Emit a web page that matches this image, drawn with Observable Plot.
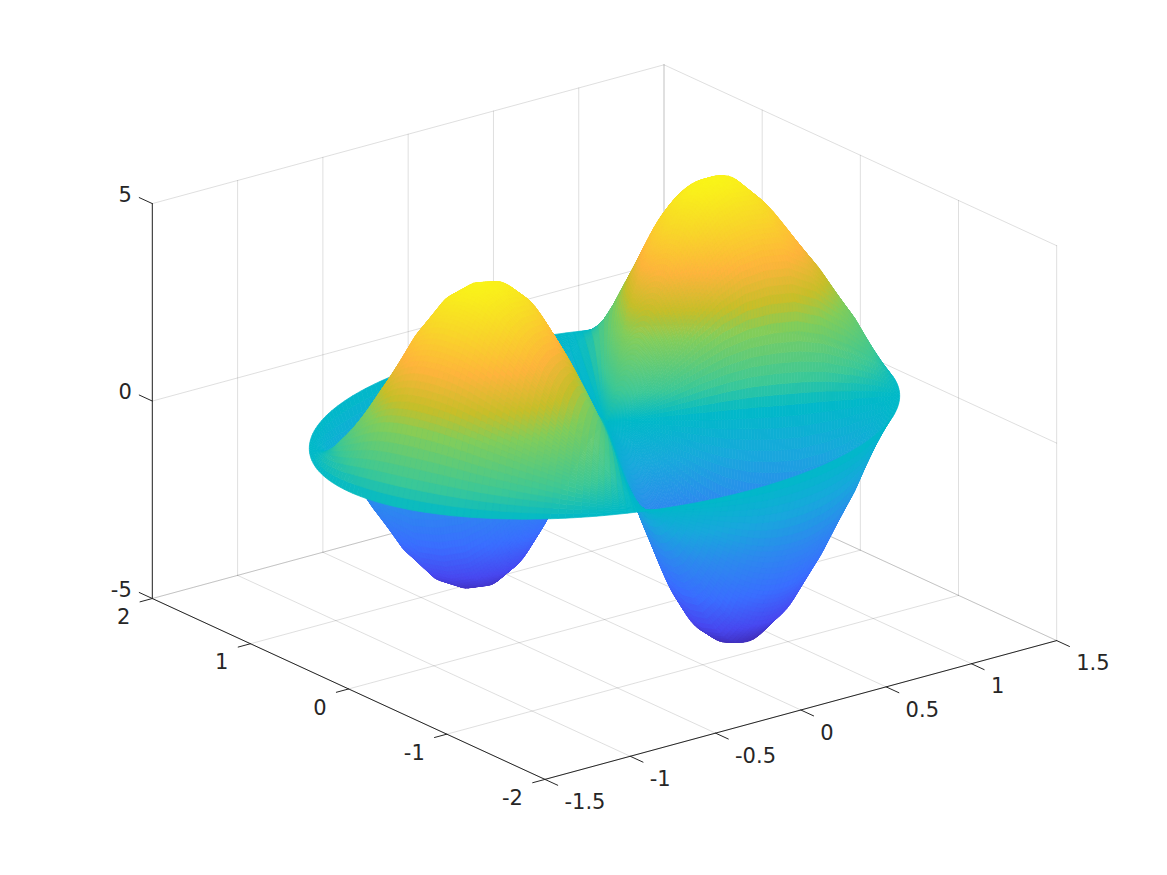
<!DOCTYPE html>
<html><head><meta charset="utf-8">
<style>html,body{margin:0;padding:0;background:#fff}svg{display:block}</style>
<script src="https://cdn.jsdelivr.net/npm/d3@7"></script>
<script src="https://cdn.jsdelivr.net/npm/@observablehq/plot@0.6"></script>
</head><body><div id="c"></div><script>
const xTicks=[-1.5,-1,-0.5,0,0.5,1,1.5];
const yTicks=[-2,-1,0,1,2];
const zTicks=[-5,0,5];
const radii=[0,.125,.25,.375,.5,.625,.75,.875,1,1.125,1.25,1.375,1.5];
const angles=[21,36,51,66,81,96,111,126,141,156,171,186,201,216,231,246,261,276,291,306,321,336,351,366];
// one row per angle, one column per radius
const zValues=[
[0,.61,1.48,2.43,3.40,4.20,4.68,4.82,4.72,4.18,3.20,1.90,0],
[0,.54,1.30,2.14,2.99,3.70,4.12,4.24,4.15,3.68,2.82,1.67,0],
[0,.31,.74,1.22,1.70,2.10,2.34,2.41,2.36,2.09,1.60,.95,0],
[0,0,0,0,0,0,0,0,0,0,0,0,0],
[0,-.31,-.74,-1.22,-1.70,-2.10,-2.34,-2.41,-2.36,-2.09,-1.60,-.95,0],
[0,-.54,-1.30,-2.14,-2.99,-3.70,-4.12,-4.24,-4.15,-3.68,-2.82,-1.67,0],
[0,-.60,-1.46,-2.39,-3.35,-4.14,-4.61,-4.75,-4.65,-4.12,-3.15,-1.87,0],
[0,-.50,-1.22,-2.00,-2.81,-3.47,-3.86,-3.98,-3.89,-3.45,-2.64,-1.57,0],
[0,-.24,-.59,-.97,-1.36,-1.68,-1.87,-1.93,-1.89,-1.67,-1.28,-.76,0],
[0,.06,.15,.24,.34,.42,.47,.48,.47,.42,.32,.19,0],
[0,.34,.83,1.36,1.90,2.35,2.62,2.70,2.64,2.34,1.79,1.06,0],
[0,.57,1.38,2.26,3.16,3.91,4.35,4.49,4.39,3.89,2.98,1.77,0],
[0,.59,1.44,2.36,3.30,4.07,4.54,4.68,4.58,4.05,3.10,1.84,0],
[0,.46,1.12,1.85,2.58,3.19,3.56,3.66,3.59,3.18,2.43,1.44,0],
[0,.26,.62,1.02,1.43,1.76,1.97,2.02,1.98,1.76,1.34,.80,0],
[0,0,0,0,0,0,0,0,0,0,0,0,0],
[0,-.31,-.74,-1.22,-1.70,-2.10,-2.34,-2.41,-2.36,-2.09,-1.60,-.95,0],
[0,-.56,-1.35,-2.22,-3.11,-3.84,-4.28,-4.41,-4.32,-3.82,-2.93,-1.74,0],
[0,-.62,-1.50,-2.46,-3.44,-4.25,-4.74,-4.88,-4.78,-4.23,-3.24,-1.92,0],
[0,-.50,-1.21,-1.99,-2.79,-3.44,-3.84,-3.95,-3.87,-3.43,-2.62,-1.56,0],
[0,-.18,-.44,-.73,-1.02,-1.26,-1.40,-1.45,-1.42,-1.25,-.96,-.57,0],
[0,.12,.30,.49,.68,.84,.94,.96,.94,.84,.64,.38,0],
[0,.38,.92,1.51,2.11,2.60,2.90,2.99,2.93,2.59,1.98,1.18,0],
[0,.52,1.26,2.07,2.89,3.57,3.98,4.10,4.01,3.55,2.72,1.62,0]];
const colorLevels=[-5,-4.2,-3.2,-2,-1,0,.6,1.7,2.3,3.1,4,5];
const colorStops=["#3e26a8","#4848f0","#3a6eff","#2c8aee","#18a8dc","#00b9c8","#3cc896","#82cd5a","#c8be28","#ffb43c","#f8d828","#f9fb15"];

const az=-37.5*Math.PI/180, el=30*Math.PI/180;
const project=(x,y,z)=>{const a=x/3,b=y/4,c=z/10;return{
  u:Math.cos(az)*a+Math.sin(az)*b,
  v:Math.sin(el)*(-Math.sin(az)*a+Math.cos(az)*b)+Math.cos(el)*c,
  d:Math.cos(el)*Math.sin(az)*a-Math.cos(el)*Math.cos(az)*b+Math.sin(el)*c}};
const seg=(rows,id,p,q)=>{for(const [x,y,z] of [p,q]){const {u,v}=project(x,y,z);rows.push({u,v,id})}};

const grid=[];let g=0;
for(const t of xTicks){seg(grid,g++,[t,-2,-5],[t,2,-5]);seg(grid,g++,[t,2,-5],[t,2,5]);}
for(const t of yTicks){seg(grid,g++,[-1.5,t,-5],[1.5,t,-5]);seg(grid,g++,[1.5,t,-5],[1.5,t,5]);}
for(const t of zTicks){seg(grid,g++,[-1.5,2,t],[1.5,2,t]);seg(grid,g++,[1.5,-2,t],[1.5,2,t]);}
const axes=[];let h=0;
seg(axes,h++,[-1.5,-2,-5],[1.5,-2,-5]);seg(axes,h++,[-1.5,-2,-5],[-1.5,2,-5]);seg(axes,h++,[-1.5,2,-5],[-1.5,2,5]);
for(const t of xTicks)seg(axes,h++,[t,-2,-5],[t,-2.13,-5]);
for(const t of yTicks)seg(axes,h++,[-1.5,t,-5],[-1.572,t,-5]);
for(const t of zTicks)seg(axes,h++,[-1.5,2,t],[-1.5,2.133,t]);
const lab=(ts,f)=>ts.map(t=>({...project(...f(t)),t:String(t)}));

const cr=(a,b,c,d,t)=>.5*(2*b+(c-a)*t+(2*a-5*b+4*c-d)*t*t+(3*b-a-3*c+d)*t*t*t);
const nA=angles.length,nR=radii.length,angleStep=angles[1]-angles[0];
const surf=(s,w)=>{
  const j=Math.floor(s),t=s-j,i=Math.min(Math.floor(w),nR-2),q=w-i;
  const col=k=>{const row=zValues[((k%nA)+nA)%nA];return row[i]+(row[i+1]-row[i])*q};
  return cr(col(j-1),col(j),col(j+1),col(j+2),t)};
const subA=10,subR=8,quads=[];
const vert=(m,n)=>{const s=m/subA,w=n/subR,th=(angles[0]+s*angleStep)*Math.PI/180;
  const i=Math.min(Math.floor(w),nR-2),r=radii[i]+(w-i)*(radii[i+1]-radii[i]);
  const x=r*Math.cos(th),y=r*Math.sin(th),z=surf(s,w);return{...project(x,y,z),z}};
for(let m=0;m<nA*subA;m++)for(let n=0;n<(nR-1)*subR;n++){
  const vs=[vert(m,n),vert(m+1,n),vert(m+1,n+1),vert(m,n+1)];
  quads.push({vs,d:d3.mean(vs,e=>e.d),c:d3.mean(vs,e=>e.z)});
}
quads.sort((a,b)=>a.d-b.d);
const surfaceRows=[];
quads.forEach((q,id)=>{for(const p of [...q.vs,q.vs[0]])surfaceRows.push({u:p.u,v:p.v,id,c:q.c})});

const font={fontFamily:"'DejaVu Sans'",fontSize:21,fill:"#262626"};
const chart=Plot.plot({width:1167,height:875,margin:0,
  x:{domain:[-0.93643,0.87287],range:[0,1167],axis:null},
  y:{domain:[-0.9943,0.92456],range:[875,0],axis:null},
  color:{type:"linear",domain:colorLevels,range:colorStops},
  style:{background:"#fff"},
  marks:[
    Plot.line(grid,{x:"u",y:"v",z:"id",stroke:"#262626",strokeOpacity:.15,strokeWidth:1}),
    Plot.line(surfaceRows,{x:"u",y:"v",z:"id",fill:"c",stroke:"c",strokeWidth:.7}),
    Plot.line(axes,{x:"u",y:"v",z:"id",stroke:"#262626",strokeWidth:1}),
    Plot.text(lab(xTicks,t=>[t,-2,-5]),{x:"u",y:"v",text:"t",textAnchor:"start",dx:19.5,dy:23,...font}),
    Plot.text(lab(yTicks,t=>[-1.5,t,-5]),{x:"u",y:"v",text:"t",textAnchor:"end",dx:-22,dy:19,...font}),
    Plot.text(lab(zTicks,t=>[-1.5,2,t]),{x:"u",y:"v",text:"t",textAnchor:"end",dx:-20.5,dy:-8.5,...font})
  ]});
document.getElementById("c").appendChild(chart);
</script></body></html>
